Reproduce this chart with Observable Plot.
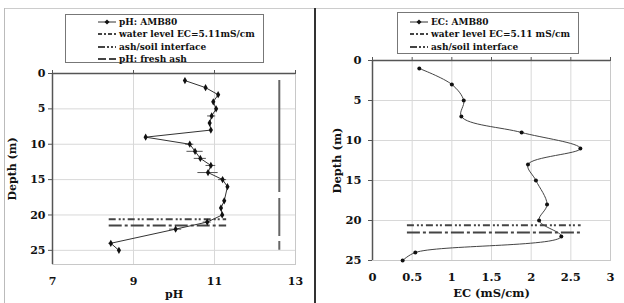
<!DOCTYPE html>
<html>
<head>
<meta charset="utf-8">
<script src="https://cdn.jsdelivr.net/npm/d3@7"></script>
<script src="https://cdn.jsdelivr.net/npm/@observablehq/plot@0.6"></script>
<style>
  html, body { margin: 0; padding: 0; background: #fff; }
  #wrap { position: relative; width: 624px; height: 303px; overflow: hidden; background: #fff;
          font-family: "DejaVu Serif", "Liberation Serif", serif; font-weight: bold; }
  .abs { position: absolute; }
  .legend { position: absolute; border: 1px solid #777; background: #fff; box-sizing: border-box; }
  .row { position: absolute; left: 0; height: 12px; white-space: nowrap; }
  .row svg { position: absolute; top: 0; }
  .row span { position: absolute; top: 0; line-height: 12px; color: #111; }
</style>
</head>
<body>
<div id="wrap">
  <div class="abs" style="left:4px;top:8px;width:620px;height:1px;background:#ccc"></div>
  <div class="abs" style="left:4px;top:8px;width:1px;height:295px;background:#bbb"></div>
  <div class="abs" style="left:314px;top:8px;width:2px;height:295px;background:#333"></div>
  <div id="left" class="abs" style="left:0;top:0"></div>
  <div id="right" class="abs" style="left:312px;top:0"></div>
  <div id="legL" class="legend" style="left:65px;top:14px;width:199px;height:49px"></div>
  <div id="legR" class="legend" style="left:397px;top:12px;width:182px;height:42px"></div>
</div>
<script>
// ---------- data ----------
const depthPH = [1, 2, 3, 4, 5, 6, 7, 8, 9, 10, 11, 12, 13, 14, 15, 16, 18, 19, 20, 21, 22, 24, 25];
const pHValues = [10.27, 10.78, 11.09, 10.97, 11.04, 10.93, 10.88, 10.91, 9.30, 10.39, 10.52, 10.65, 10.91, 10.84, 11.20, 11.32, 11.24, 11.16, 11.19, 10.82, 10.04, 8.44, 8.64];
const pHErr = [0, 0, 0, 0, 0, 0.1, 0, 0, 0, 0.1, 0.2, 0.15, 0.12, 0.25, 0.1, 0, 0, 0, 0, 0.1, 0.15, 0.05, 0];

const depthEC = [1, 3, 5, 7, 9, 11, 13, 15, 18, 20, 22, 24, 25];
const ecValues = [0.59, 1.00, 1.15, 1.12, 1.88, 2.62, 1.96, 2.06, 2.20, 2.10, 2.38, 0.54, 0.38];

const waterLevelDepth = 20.6;
const interfaceDepth = 21.5;
const refSpanPH = [8.4, 11.3];
const refSpanEC = [0.44, 2.63];
const freshAshPH = 12.6;
const freshAshDepth = [1, 25];

const depthTicks = [0, 5, 10, 15, 20, 25];
const pHTicks = [7, 9, 11, 13];
const ecTicks = [0, 0.5, 1, 1.5, 2, 2.5, 3];
const ecTickLabels = ["0", "0.5", "1", "1.5", "2", "2.5", "3"];

const legendLeft = ["pH: AMB80", "water level EC=5.11mS/cm", "ash/soil interface", "pH: fresh ash"];
const legendRight = ["EC: AMB80", "water level EC=5.11 mS/cm", "ash/soil interface"];

// ---------- tables ----------
const phData = depthPH.map((d, i) => ({depth: d, pH: pHValues[i], err: pHErr[i]}));
const ecData = depthEC.map((d, i) => ({depth: d, ec: ecValues[i]}));
const DASH_WATER = "7,3,2,2,2,3";
const DASH_IFACE = "13,3,3,3";
const DASH_FRESH = "112,6,38,5";

const FONT = "'DejaVu Serif', 'Liberation Serif', serif";
const baseStyle = {fontFamily: FONT, fontSize: "11px", fontWeight: "bold", background: "none", overflow: "visible", color: "#111"};

function refLines(y, span, dash) {
  return Plot.ruleY([y], {x1: span[0], x2: span[1], stroke: "#444", strokeWidth: 2, strokeDasharray: dash});
}

// ---------- left chart ----------
const left = Plot.plot({
  width: 312, height: 303,
  marginLeft: 52, marginRight: 17, marginTop: 73, marginBottom: 39,
  style: baseStyle,
  x: {domain: [7, 13]},
  y: {domain: [0, 27], reverse: true},
  marks: [
    Plot.gridX(pHTicks.slice(1, 3), {stroke: "#d8d8d8", strokeOpacity: 1}),
    Plot.gridY(depthTicks.slice(1), {stroke: "#d8d8d8", strokeOpacity: 1}),
    Plot.frame({stroke: "#c8c8c8"}),
    Plot.ruleX([7], {y1: 0, y2: 27, stroke: "#555", strokeWidth: 1.5}),
    Plot.ruleY([0], {stroke: "#555", strokeWidth: 1.5}),
    Plot.axisX({anchor: "top", ticks: pHTicks, tickSize: 4, tickFormat: () => "", label: null, stroke: "#555"}),
    Plot.axisX({anchor: "bottom", ticks: pHTicks, tickSize: 0, tickPadding: 13, tickFormat: d => String(d),
                label: "pH", labelAnchor: "center", labelOffset: 33, labelArrow: "none"}),
    Plot.axisY({ticks: depthTicks, tickSize: 4, tickPadding: 3, tickFormat: d => String(d), label: "Depth (m)",
                labelAnchor: "center", labelOffset: 44, labelArrow: "none", stroke: "#555"}),
    Plot.ruleX([freshAshPH], {y1: freshAshDepth[0], y2: freshAshDepth[1], stroke: "#666", strokeWidth: 2, strokeDasharray: DASH_FRESH}),
    refLines(waterLevelDepth, refSpanPH, DASH_WATER),
    refLines(interfaceDepth, refSpanPH, DASH_IFACE),
    Plot.ruleY(phData.filter(d => d.err > 0), {y: "depth", x1: d => d.pH - d.err, x2: d => d.pH + d.err, stroke: "#555", strokeWidth: 1}),
    Plot.line(phData, {x: "pH", y: "depth", stroke: "#333", strokeWidth: 1}),
    Plot.dot(phData, {x: "pH", y: "depth", symbol: "diamond", r: 2.2, fill: "#111", stroke: "none"})
  ]
});
document.getElementById("left").appendChild(left);

// ---------- right chart ----------
const right = Plot.plot({
  width: 312, height: 303,
  marginLeft: 60, marginRight: 14, marginTop: 60, marginBottom: 43,
  style: {...baseStyle, fontSize: "11.5px"},
  x: {domain: [0, 3]},
  y: {domain: [0, 25], reverse: true},
  marks: [
    Plot.gridX(ecTicks.slice(1, 6), {stroke: "#d8d8d8", strokeOpacity: 1}),
    Plot.gridY(depthTicks.slice(1), {stroke: "#d8d8d8", strokeOpacity: 1}),
    Plot.frame({stroke: "#c8c8c8"}),
    Plot.ruleX([0], {y1: 0, y2: 25, stroke: "#555", strokeWidth: 1.5}),
    Plot.ruleY([0], {stroke: "#555", strokeWidth: 1.5}),
    Plot.axisX({anchor: "top", ticks: ecTicks, tickSize: 4, tickFormat: () => "", label: null, stroke: "#555"}),
    Plot.axisX({anchor: "bottom", ticks: ecTicks, tickSize: 0, tickPadding: 12,
                tickFormat: (d, i) => ecTickLabels[i], label: "EC (mS/cm)",
                labelAnchor: "center", labelOffset: 36, labelArrow: "none"}),
    Plot.axisY({ticks: depthTicks, tickSize: 4, tickPadding: 7, tickFormat: d => String(d), label: "Depth (m)",
                labelAnchor: "center", labelOffset: 40, labelArrow: "none", stroke: "#555"}),
    refLines(waterLevelDepth, refSpanEC, DASH_WATER),
    refLines(interfaceDepth, refSpanEC, DASH_IFACE),
    Plot.line(ecData, {x: "ec", y: "depth", curve: "catmull-rom", stroke: "#444", strokeWidth: 1}),
    Plot.dot(ecData, {x: "ec", y: "depth", r: 2, fill: "#111", stroke: "none"})
  ]
});
document.getElementById("right").appendChild(right);

// ---------- legends ----------
function swatch(kind) {
  const ns = "http://www.w3.org/2000/svg";
  const svg = document.createElementNS(ns, "svg");
  svg.setAttribute("width", 20); svg.setAttribute("height", 12);
  const line = document.createElementNS(ns, "line");
  line.setAttribute("x1", 1); line.setAttribute("x2", 19);
  line.setAttribute("y1", 6); line.setAttribute("y2", 6);
  line.setAttribute("stroke", kind === "data" ? "#333" : "#444");
  line.setAttribute("stroke-width", kind === "data" ? 1 : 2);
  if (kind === "water") line.setAttribute("stroke-dasharray", "4,2,2,2");
  if (kind === "iface") line.setAttribute("stroke-dasharray", "7,2,2,2,2,2");
  if (kind === "fresh") line.setAttribute("stroke-dasharray", "8,3");
  svg.appendChild(line);
  if (kind === "data") {
    const m = document.createElementNS(ns, "path");
    m.setAttribute("d", "M10,3.5L12.5,6L10,8.5L7.5,6Z");
    m.setAttribute("fill", "#111");
    svg.appendChild(m);
  }
  return svg;
}
function buildLegend(el, labels, kinds, symX, textX, top0, step, fs) {
  labels.forEach((lab, i) => {
    const row = document.createElement("div");
    row.className = "row";
    row.style.top = (top0 + i * step) + "px";
    row.style.width = "100%";
    const s = swatch(kinds[i]);
    s.style.left = symX + "px";
    row.appendChild(s);
    const t = document.createElement("span");
    t.textContent = lab;
    t.style.left = textX + "px";
    t.style.fontSize = fs + "px";
    t.style.fontFamily = FONT;
    row.appendChild(t);
    el.appendChild(row);
  });
}
buildLegend(document.getElementById("legL"), legendLeft, ["data", "water", "iface", "fresh"], 31, 53, 1, 12.4, 9);
buildLegend(document.getElementById("legR"), legendRight, ["data", "water", "iface"], 11, 33, 2.5, 12.6, 9);
</script>
</body>
</html>
